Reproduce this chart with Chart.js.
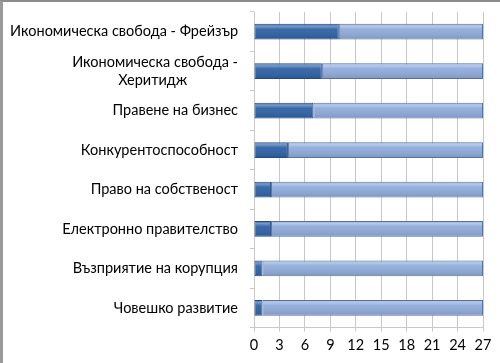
<!DOCTYPE html>
<html>
<head>
<meta charset="utf-8">
<script src="https://cdn.jsdelivr.net/npm/chart.js@4/dist/chart.umd.min.js"></script>
<style>
  html, body { margin: 0; padding: 0; background: #fff; }
  #wrap {
    width: 500px; height: 363px; box-sizing: border-box;
    border-top: 2px solid #8c8c8c; border-left: 3px solid #9a9a9a;
  }
</style>
</head>
<body>
<div id="wrap"><canvas id="chart" width="497" height="361"></canvas></div>
<script>
const categories = [
    'Икономическа свобода - Фрейзър',
    // en spaces keep the second line centred under the first
    ['Икономическа свобода -', 'Херитидж\u2002\u2002\u2002\u2002\u2002\u2002\u2002'],
    'Правене на бизнес',
    'Конкурентоспособност',
    'Право на собственост',
    'Електронно правителство',
    'Възприятие на корупция',
    'Човешко развитие'
];
const rankValues = [10, 8, 7, 4, 2, 2, 1, 1];
const restValues = [17, 19, 20, 23, 25, 25, 26, 26];
const xTicks = [0, 3, 6, 9, 12, 15, 18, 21, 24, 27];

// bar shine: lighter band along the top of each bar
const shine = {
    id: 'shine',
    afterDatasetsDraw(chart) {
        const c = chart.ctx;
        chart.data.datasets.forEach((ds, i) => {
            chart.getDatasetMeta(i).data.forEach(bar => {
                const p = bar.getProps(['x', 'y', 'base', 'height'], true);
                const left = Math.min(p.x, p.base), w = Math.abs(p.x - p.base);
                const top = p.y - p.height / 2;
                const g = c.createLinearGradient(0, top, 0, top + p.height);
                g.addColorStop(0, 'rgba(255,255,255,0.05)');
                g.addColorStop(0.15, 'rgba(255,255,255,0.35)');
                g.addColorStop(0.35, 'rgba(255,255,255,0.05)');
                g.addColorStop(1, 'rgba(0,0,0,0.12)');
                c.save();
                c.fillStyle = g;
                c.fillRect(left + 1, top + 1, w - 2, p.height - 2);
                c.restore();
            });
        });
    }
};

const ctx = document.getElementById('chart').getContext('2d');
new Chart(ctx, {
    type: 'bar',
    data: {
        labels: categories,
        datasets: [
            {
                data: rankValues,
                backgroundColor: '#2f62a6',
                borderColor: '#264a7c',
                borderWidth: 1,
                borderSkipped: false,
                categoryPercentage: 0.4,
                barPercentage: 1
            },
            {
                data: restValues,
                backgroundColor: '#8fabda',
                borderColor: '#56729f',
                borderWidth: 1,
                borderSkipped: false,
                categoryPercentage: 0.4,
                barPercentage: 1
            }
        ]
    },
    options: {
        indexAxis: 'y',
        responsive: false,
        animation: false,
        layout: { padding: { top: 10, right: 17, bottom: 4, left: 5 } },
        plugins: { legend: { display: false }, tooltip: { enabled: false } },
        scales: {
            x: {
                stacked: true,
                min: 0,
                max: 27,
                afterBuildTicks: axis => { axis.ticks = xTicks.map(v => ({ value: v })); },
                afterFit: scale => { scale.paddingLeft = 0; scale.paddingRight = 0; },
                grid: { color: '#c8c8c8', drawTicks: true, tickLength: 4 },
                border: { color: '#c8c8c8' },
                ticks: { color: '#000', font: { family: 'Lato', size: 14.5 }, padding: 5 }
            },
            y: {
                stacked: true,
                // wider label column than the default cap, no overhang from the two-line label
                afterFit: scale => { scale.width = 246; scale.paddingTop = 0; scale.paddingBottom = 0; },
                grid: { display: true, drawOnChartArea: false, offset: true, color: '#c8c8c8', tickLength: 4 },
                border: { color: '#c8c8c8' },
                ticks: { color: '#000', font: { family: 'Lato', size: 14.5 }, padding: 12 }
            }
        }
    },
    plugins: [shine]
});
</script>
</body>
</html>
